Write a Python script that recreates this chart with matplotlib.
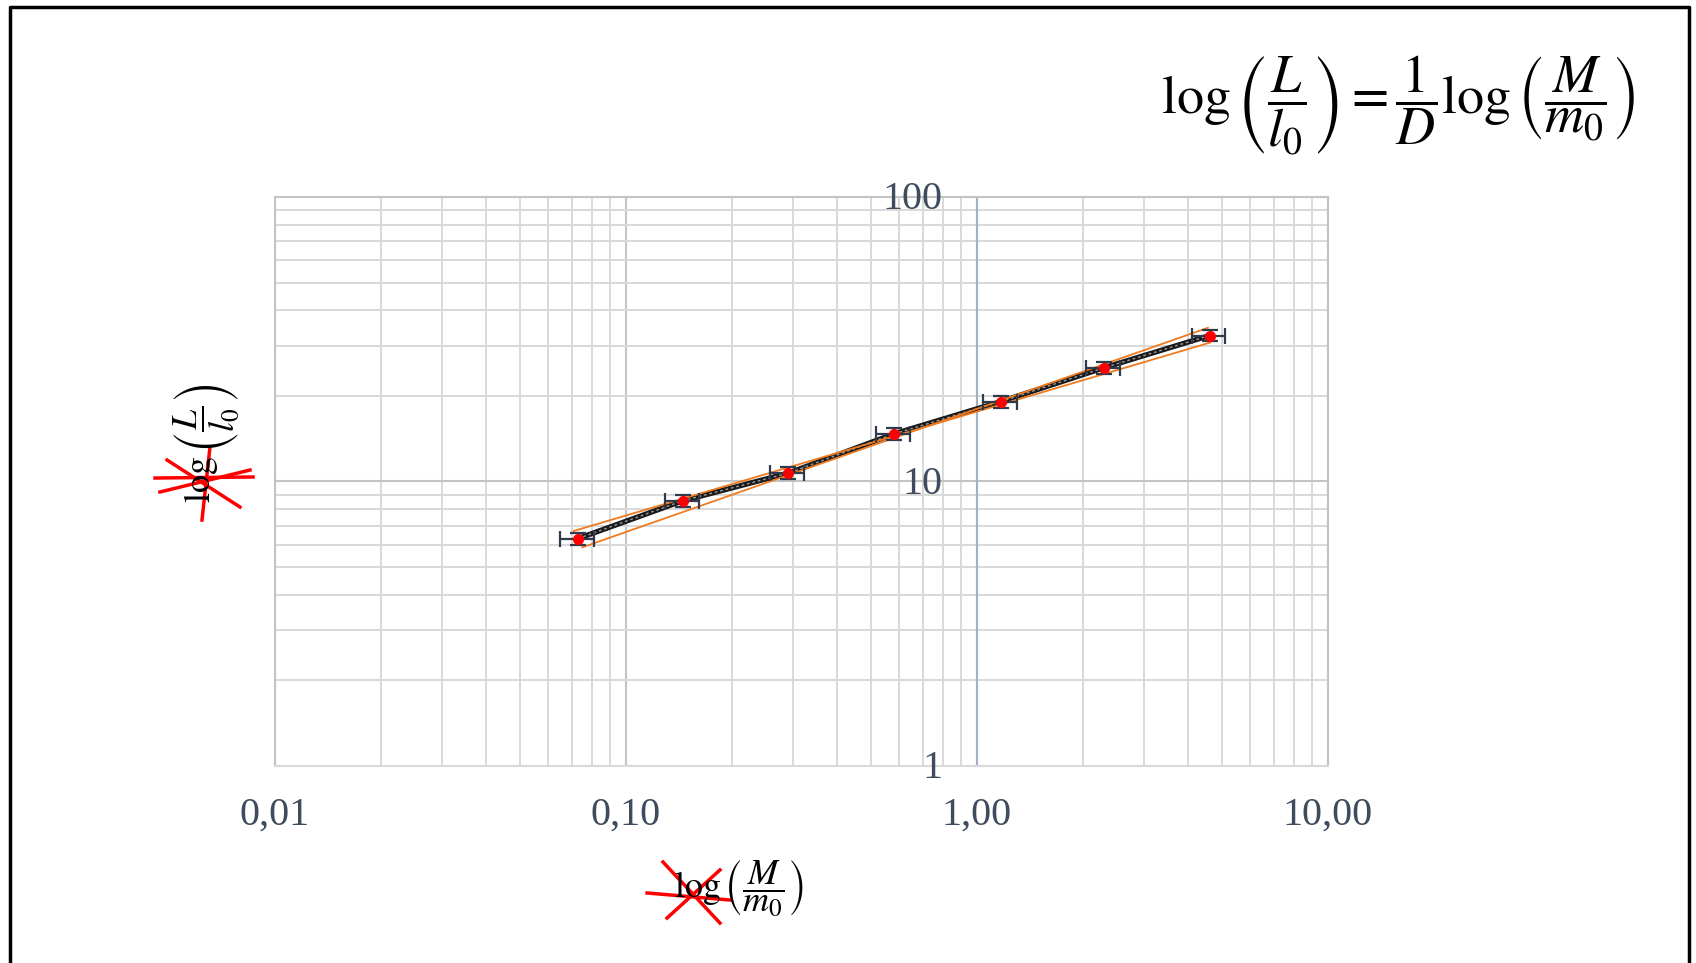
import matplotlib
matplotlib.use("Agg")
import matplotlib.pyplot as plt
from matplotlib.lines import Line2D

plt.rcParams['font.family'] = ['Liberation Serif', 'DejaVu Serif']
plt.rcParams['mathtext.fontset'] = 'stix'

# measured points (mass ratio, length ratio)
mass = [0.073, 0.145, 0.29, 0.58, 1.17, 2.3, 4.6]
length = [6.3, 8.55, 10.7, 14.7, 19.1, 25.1, 32.6]
mass_err = [0.008, 0.016, 0.032, 0.064, 0.13, 0.25, 0.5]
length_err = [0.3, 0.4, 0.5, 0.7, 0.9, 1.2, 1.5]

# max / min slope lines (end points)
steep_x = [0.0751, 4.55]
steep_y = [5.87, 34.7]
flat_x = [0.0710, 4.62]
flat_y = [6.70, 30.8]

x_ticks = [0.01, 0.1, 1, 10]
x_labels = ['0,01', '0,10', '1,00', '10,00']
y_ticks = [1, 10, 100]
y_labels = ['1', '10', '100']

text_col = '#3E4C5E'

fig = plt.figure(figsize=(16.96, 9.63), dpi=100)
ax = fig.add_axes([0.1621, 0.2046, 0.6209, 0.5908])
ax.set_xscale('log')
ax.set_yscale('log')
ax.set_xlim(0.01, 10)
ax.set_ylim(1, 100)

ax.grid(True, which='minor', color='#D9D9D9', lw=1.4)
ax.grid(True, which='major', color='#C4C4C4', lw=1.5)
ax.set_axisbelow(True)
for s in ax.spines.values():
    s.set_color('#C4C4C4')
    s.set_linewidth(1.5)
ax.spines['bottom'].set_color('#D9D9D9')
ax.axvline(1, color='#A3B1C6', lw=1.5, zorder=1)

ax.tick_params(which='both', length=0)
ax.set_xticks(x_ticks)
ax.set_xticklabels(x_labels, fontsize=29, color=text_col)
ax.tick_params(axis='x', pad=22)
ax.set_yticks(y_ticks)
ax.set_yticklabels([])
for v, lab in zip(y_ticks, y_labels):
    ax.annotate(lab, xy=(1, v), xytext=(-25, -2), textcoords='offset points',
                ha='right', va='center', fontsize=29, color=text_col)

ax.plot(mass, length, color='#1A1A1A', lw=3.8, zorder=3)
ax.plot(mass, length, color='#9A9A9A', lw=1.0, ls=(0, (2, 2)), zorder=4)
ax.plot(steep_x, steep_y, color='#F07A1E', lw=1.3, zorder=5)
ax.plot(flat_x, flat_y, color='#F07A1E', lw=1.3, zorder=5)
ax.errorbar(mass, length, xerr=mass_err, yerr=length_err, fmt='none',
            ecolor='#2F3B4C', elinewidth=1.6, capsize=6, capthick=1.6, zorder=6)
ax.plot(mass, length, 'o', color='#FF0000', ms=7, zorder=7)

# formula
fig.text(0.8245, 0.891,
         r'$\log\left(\dfrac{L}{l_0}\right)=\dfrac{1}{D}\log\left(\dfrac{M}{m_0}\right)$',
         fontsize=39, ha='center', va='center')

# axis titles
fig.text(0.4357, 0.078, r'$\log\left(\dfrac{M}{m_0}\right)$', fontsize=26,
         ha='center', va='center')
fig.text(0.122, 0.540, r'$\log\left(\dfrac{L}{l_0}\right)$', fontsize=26,
         ha='center', va='center', rotation=90)

# red cross-outs over "log"
scribbles = [
    ([0.3815, 0.4304], [0.0727, 0.0654]),
    ([0.3909, 0.4245], [0.1049, 0.0415]),
    ([0.3933, 0.4245], [0.0467, 0.0966]),
    ([0.0914, 0.1492], [0.5036, 0.5047]),
    ([0.1191, 0.1238], [0.4600, 0.5358]),
    ([0.0985, 0.1415], [0.5223, 0.4735]),
    ([0.0943, 0.1474], [0.4891, 0.5119]),
]
for sx, sy in scribbles:
    fig.add_artist(Line2D(sx, sy, color='#FF0000', lw=2.5, transform=fig.transFigure))

# outer frame (no bottom edge visible)
fig.add_artist(Line2D([0.006, 0.006, 0.9958, 0.9958], [0.0, 0.9927, 0.9927, 0.0],
                      color='black', lw=2.5, transform=fig.transFigure))

fig.savefig('out.png', dpi=100)
